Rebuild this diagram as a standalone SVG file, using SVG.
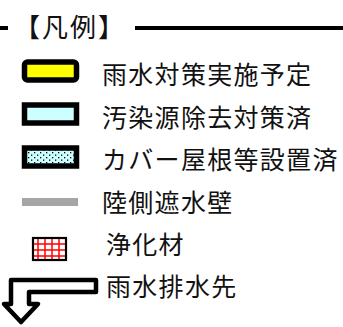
<svg xmlns="http://www.w3.org/2000/svg" width="343" height="327" viewBox="0 0 343 327">
<defs>
<style>
.t{font-family:"Noto Sans CJK JP","Noto Sans CJK SC",sans-serif;font-size:25px;fill:#111;letter-spacing:1.3px}
.box{stroke:#000;stroke-width:5.5}
.red{stroke:#f00;stroke-width:1.5}
</style>
<pattern id="dots" width="6" height="5" patternUnits="userSpaceOnUse" x="27" y="151">
<rect width="6" height="5" fill="#ccffff"/>
<rect x="1" y="1" width="1.3" height="1.3" fill="#000"/>
<rect x="4" y="3.5" width="1.3" height="1.3" fill="#000"/>
</pattern>
</defs>
<rect width="343" height="327" fill="#fff"/>
<g id="header">
<line x1="0" y1="28" x2="8" y2="28" stroke="#000" stroke-width="4"/>
<text x="14" y="37" class="t" style="font-size:26px;letter-spacing:2px">【凡例】</text>
<line x1="135" y1="28" x2="343" y2="28" stroke="#000" stroke-width="4"/>
</g>
<g id="rain-planned">
<rect x="24.5" y="62" width="52" height="18" rx="3" fill="#ffff00" class="box"/>
<text x="102" y="84" class="t">雨水対策実施予定</text>
</g>
<g id="source-removed">
<rect x="24.5" y="105" width="52" height="18" fill="#ccffff" class="box"/>
<text x="102" y="127" class="t">汚染源除去対策済</text>
</g>
<g id="cover-roof">
<rect x="24.5" y="148" width="52" height="18" fill="url(#dots)" class="box"/>
<text x="102" y="169" class="t">カバー屋根等設置済</text>
</g>
<g id="wall">
<rect x="22" y="198" width="56" height="8" fill="#a6a6a6"/>
<text x="102" y="212" class="t">陸側遮水壁</text>
</g>
<g id="purifier">
<rect x="33" y="238" width="33" height="22" fill="#fff" stroke="#000" stroke-width="2.2"/>
<line x1="38" y1="239" x2="38" y2="259" class="red"/>
<line x1="45" y1="239" x2="45" y2="259" class="red"/>
<line x1="52" y1="239" x2="52" y2="259" class="red"/>
<line x1="59" y1="239" x2="59" y2="259" class="red"/>
<line x1="34" y1="244" x2="65" y2="244" class="red"/>
<line x1="34" y1="250" x2="65" y2="250" class="red"/>
<line x1="34" y1="256" x2="65" y2="256" class="red"/>
<text x="106" y="254" class="t">浄化材</text>
</g>
<g id="drain">
<path d="M96,280 H11 V304 H4 L21,322 L38,304 H29 V292 H96 Z" fill="#fff" stroke="#000" stroke-width="4.5" stroke-linejoin="round"/>
<text x="106" y="296" class="t">雨水排水先</text>
</g>
</svg>
